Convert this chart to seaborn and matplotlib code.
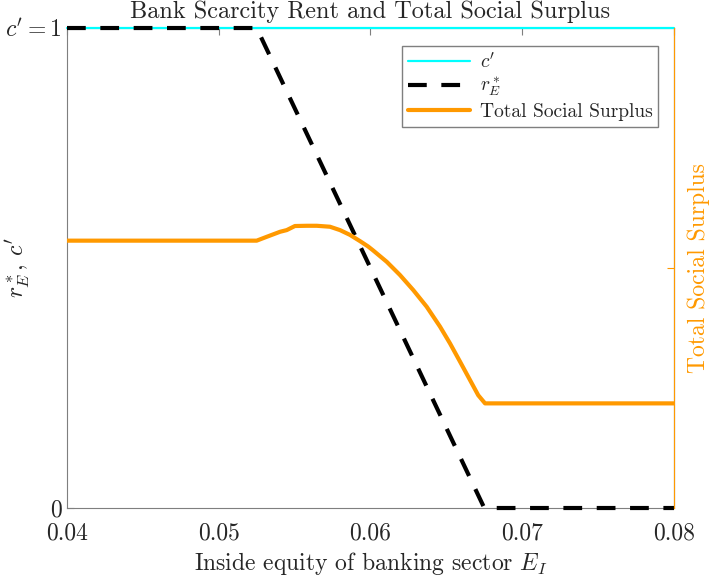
import numpy as np
import pandas as pd
import matplotlib
matplotlib.use('Agg')
import matplotlib.pyplot as plt
from matplotlib.lines import Line2D
import seaborn as sns

# ------------------------------------------------------------
# Veri
# ------------------------------------------------------------
e_r = [0.04, 0.0525, 0.0675, 0.08]          # r_E^* kirilma noktalari
r_star = [1.0, 1.0, 0.0, 0.0]
e_c = [0.04, 0.08]
c_prime = [1.0, 1.0]

e_tss = [0.04, 0.0525, 0.05316, 0.05404, 0.05448, 0.05502, 0.05580, 0.05646,
         0.05733, 0.05799, 0.05865, 0.05931, 0.05984, 0.06016, 0.06107, 0.06194,
         0.06282, 0.06370, 0.06458, 0.06524, 0.06590, 0.06656, 0.06710, 0.06755, 0.08]
tss = [1.114, 1.114, 1.130, 1.151, 1.158, 1.175, 1.176, 1.176,
       1.172, 1.158, 1.138, 1.112, 1.090, 1.074, 1.026, 0.971,
       0.908, 0.839, 0.756, 0.686, 0.610, 0.533, 0.470, 0.436, 0.436]

x_ticks = [0.04, 0.05, 0.06, 0.07, 0.08]
x_labels = ['0.04', '0.05', '0.06', '0.07', '0.08']

ORANGE = '#FF9900'
CYAN = '#00FFFF'
GRAY = '#7f7f7f'

sns.set_style('white')
plt.rcParams['font.family'] = ['cmr10', 'DejaVu Serif']
plt.rcParams['mathtext.fontset'] = 'cm'
plt.rcParams['axes.unicode_minus'] = False

fig = plt.figure(figsize=(7.09, 5.79), dpi=100)
ax = fig.add_axes([0.0945, 0.1226, 0.8561, 0.829])
ax2 = ax.twinx()

sns.lineplot(x=e_c, y=c_prime, ax=ax, color=CYAN, lw=1.6, clip_on=False, zorder=3)
sns.lineplot(x=e_r, y=r_star, ax=ax, color='black', lw=3, clip_on=False,
             dashes=False, linestyle=(0, (4.5, 3.5)), zorder=4)
sns.lineplot(x=e_tss, y=tss, ax=ax2, color=ORANGE, lw=3)

ax.set_xlim(0.04, 0.08)
ax.set_ylim(0, 1)
ax2.set_ylim(0, 2)

ax.set_xticks(x_ticks)
ax.set_xticklabels(x_labels, fontsize=17)
ax.set_yticks([0, 1])
ax.set_yticklabels(['0', "$c'=1$"], fontsize=17)
ax.tick_params(axis='x', direction='in', length=5, color=GRAY, top=True, pad=10)
ax.tick_params(axis='y', direction='in', length=5, color=GRAY, pad=4)
ax2.set_yticks([1])
ax2.set_yticklabels([''])
ax2.tick_params(axis='y', direction='in', length=5, color=ORANGE)

for s in ['left', 'bottom', 'top']:
    ax.spines[s].set_color(GRAY)
ax2.spines['right'].set_color(ORANGE)
for s in ['left', 'bottom', 'top']:
    ax2.spines[s].set_visible(False)

ax.set_xlabel('Inside equity of banking sector $E_I$', fontsize=17, labelpad=4)
ax.set_ylabel("$r_E^*$, $c'$", fontsize=17)
ax.yaxis.set_label_coords(-0.058, 0.5)
ax2.set_ylabel('Total Social Surplus', fontsize=17, color=ORANGE, labelpad=6)
ax.set_title('Bank Scarcity Rent and Total Social Surplus', fontsize=17.5, pad=7)

handles = [Line2D([], [], color=CYAN, lw=1.6),
           Line2D([], [], color='black', lw=3, linestyle=(0, (4.5, 3.5))),
           Line2D([], [], color=ORANGE, lw=3)]
leg = ax2.legend(handles, ["$c'$", '$r_E^*$', 'Total Social Surplus'],
                 loc='upper right', bbox_to_anchor=(0.974, 0.9625), fontsize=14,
                 frameon=True, fancybox=False, edgecolor=GRAY, framealpha=1,
                 handlelength=3.2, borderpad=0.3, labelspacing=0.22, handletextpad=0.5,
                 borderaxespad=0)
leg.get_frame().set_linewidth(1.0)

fig.savefig('out.png', dpi=100)
